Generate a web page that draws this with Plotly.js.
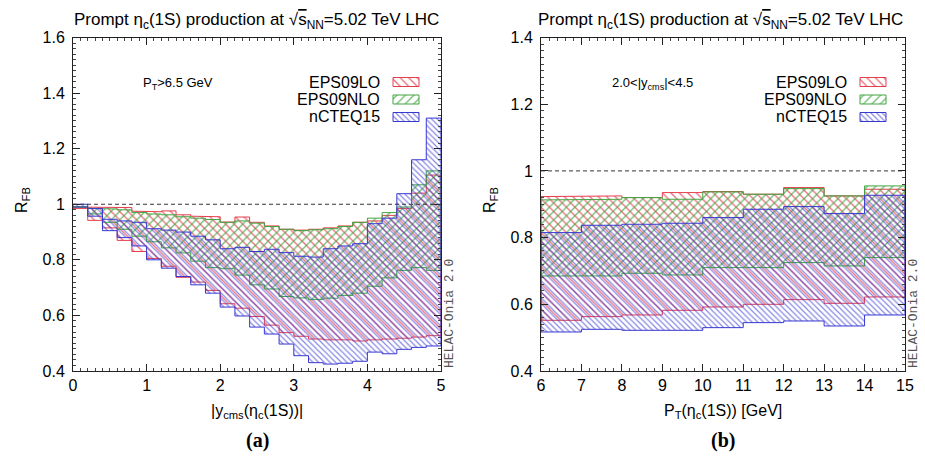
<!DOCTYPE html>
<html><head><meta charset="utf-8">
<script src="https://cdn.plot.ly/plotly-3.0.1.min.js"></script>
<style>html,body{margin:0;padding:0;background:#fff}</style>
</head><body><div id="chart" style="width:925px;height:456px"></div>
<script>
// ---------- Panel (a): R_FB vs |y_cms|, P_T > 6.5 GeV ----------
const yEdges = [0,0.2,0.4,0.6,0.8,1.0,1.2,1.4,1.6,1.8,2.0,2.2,2.4,2.6,2.8,3.0,3.2,3.4,3.6,3.8,4.0,4.2,4.4,4.6,4.8,5.0];
const aLOup  = [0.99,0.99,0.988,0.988,0.975,0.973,0.976,0.962,0.957,0.955,0.936,0.954,0.935,0.922,0.91,0.907,0.91,0.915,0.922,0.935,0.94,0.96,0.985,1.04,1.105];
const aLOlo  = [0.985,0.942,0.915,0.87,0.83,0.805,0.777,0.737,0.72,0.69,0.642,0.626,0.596,0.565,0.538,0.525,0.515,0.512,0.512,0.508,0.512,0.515,0.518,0.522,0.527];
const aNLOup = [0.99,0.985,0.983,0.98,0.97,0.965,0.962,0.955,0.95,0.945,0.935,0.94,0.932,0.92,0.91,0.905,0.908,0.912,0.92,0.935,0.95,0.97,0.99,1.07,1.12];
const aNLOlo = [0.99,0.965,0.935,0.91,0.885,0.865,0.843,0.825,0.795,0.772,0.768,0.745,0.71,0.695,0.668,0.663,0.657,0.662,0.672,0.68,0.705,0.735,0.762,0.772,0.762];
const aNCup  = [1.0,0.985,0.946,0.94,0.935,0.912,0.907,0.9,0.885,0.872,0.84,0.845,0.83,0.838,0.826,0.813,0.81,0.84,0.85,0.858,0.93,0.95,1.038,1.16,1.31];
const aNClo  = [0.99,0.957,0.905,0.88,0.85,0.80,0.77,0.74,0.71,0.68,0.63,0.598,0.558,0.533,0.497,0.455,0.43,0.425,0.428,0.435,0.468,0.462,0.478,0.485,0.49];

// ---------- Panel (b): R_FB vs P_T, 2.0 < |y_cms| < 4.5 ----------
const ptEdges = [6,7,8,9,10,11,12,13,14,15];
const bLOup  = [0.923,0.925,0.92,0.935,0.938,0.93,0.95,0.925,0.945];
const bLOlo  = [0.552,0.563,0.568,0.582,0.592,0.600,0.614,0.603,0.622];
const bNLOup = [0.913,0.915,0.92,0.915,0.937,0.93,0.947,0.925,0.955];
const bNLOlo = [0.685,0.685,0.693,0.688,0.71,0.71,0.725,0.715,0.74];
const bNCup  = [0.815,0.837,0.84,0.843,0.86,0.885,0.893,0.872,0.927];
const bNClo  = [0.517,0.525,0.522,0.522,0.53,0.545,0.55,0.535,0.568];

const seriesNames = ['EPS09LO','EPS09NLO','nCTEQ15'];

// ---------- styling ----------
const W = 925, H = 456;
const RED = 'rgb(228,62,78)', GREEN = 'rgb(64,165,64)', BLUE = 'rgb(55,55,210)';
const STY = {
  EPS09LO:  {color: RED,   shape: '\\', size: 6, solidity: 0.22, op: 0.75},
  EPS09NLO: {color: GREEN, shape: '/',  size: 6, solidity: 0.22, op: 0.75},
  nCTEQ15:  {color: BLUE,  shape: '\\', size: 4, solidity: 0.3,  op: 0.6}
};
const px = x => x / W, py = y => 1 - y / H;

function pattern(s) {
  return {shape: s.shape, fgcolor: s.color, bgcolor: 'rgba(0,0,0,0)', size: s.size, solidity: s.solidity, fgopacity: s.op};
}
function band(edges, up, lo, xa, ya, key) {
  const s = STY[key], x = [], y = [];
  for (let i = 0; i < up.length; i++) { x.push(edges[i], edges[i + 1]); y.push(up[i], up[i]); }
  for (let i = lo.length - 1; i >= 0; i--) { x.push(edges[i + 1], edges[i]); y.push(lo[i], lo[i]); }
  x.push(x[0]); y.push(y[0]);
  return {type: 'scatter', mode: 'lines', x, y, xaxis: xa, yaxis: ya, fill: 'toself',
    name: key, showlegend: false, hoverinfo: 'skip',
    line: {color: s.color, width: 1}, fillcolor: 'rgba(0,0,0,0)', fillpattern: pattern(s)};
}

// legend key boxes drawn on a hidden pixel-space axis
const keyLayout = [{x0: 393, x1: 419, yc: [82, 99.5, 117]}, {x0: 860, x1: 886, yc: [82, 99.5, 117]}];
function keyBox(x0, x1, yc, key) {
  const h = 4.5, s = STY[key];
  return {type: 'scatter', mode: 'lines', xaxis: 'x3', yaxis: 'y3', fill: 'toself',
    x: [x0, x1, x1, x0, x0], y: [yc - h, yc - h, yc + h, yc + h, yc - h],
    showlegend: false, hoverinfo: 'skip', line: {color: s.color, width: 1},
    fillcolor: 'rgba(0,0,0,0)', fillpattern: pattern(s)};
}

const traces = [
  band(yEdges, aLOup, aLOlo, 'x', 'y', 'EPS09LO'),
  band(yEdges, aNLOup, aNLOlo, 'x', 'y', 'EPS09NLO'),
  band(yEdges, aNCup, aNClo, 'x', 'y', 'nCTEQ15'),
  band(ptEdges, bLOup, bLOlo, 'x2', 'y2', 'EPS09LO'),
  band(ptEdges, bNLOup, bNLOlo, 'x2', 'y2', 'EPS09NLO'),
  band(ptEdges, bNCup, bNClo, 'x2', 'y2', 'nCTEQ15')
];
keyLayout.forEach(k => seriesNames.forEach((n, i) => traces.push(keyBox(k.x0, k.x1, k.yc[i], n))));

const FONT = 'Liberation Sans, Arial, sans-serif';
const NARROW = 'Liberation Sans Narrow, Liberation Sans, Arial, sans-serif';
const axBase = {showline: true, linecolor: '#222', linewidth: 1, mirror: 'ticks', ticks: 'inside', ticklen: 7,
  tickcolor: '#222', showgrid: false, zeroline: false, fixedrange: true};
const yDom = [py(371), py(37.5)];

const layout = {
  width: W, height: H, margin: {l: 0, r: 0, t: 0, b: 0}, paper_bgcolor: '#fff', plot_bgcolor: 'rgba(0,0,0,0)',
  showlegend: false,
  xaxis: Object.assign({}, axBase, {domain: [px(73), px(441)], anchor: 'y', range: [0, 5], dtick: 1,
    tickfont: {family: NARROW, size: 16, color: '#000'},
    minor: {ticks: 'inside', ticklen: 3, dtick: 0.1, tickcolor: '#444', showgrid: false}}),
  yaxis: Object.assign({}, axBase, {domain: yDom, anchor: 'x', range: [0.4, 1.6], dtick: 0.2,
    tickfont: {family: FONT, size: 16, color: '#000'}, ticklabelstandoff: 4,
    minor: {ticks: 'inside', ticklen: 3, dtick: 0.02, tickcolor: '#444', showgrid: false}}),
  xaxis2: Object.assign({}, axBase, {domain: [px(541), px(905)], anchor: 'y2', range: [6, 15], dtick: 1,
    tickfont: {family: NARROW, size: 16, color: '#000'},
    minor: {ticks: 'inside', ticklen: 3, dtick: 0.2, tickcolor: '#444', showgrid: false}}),
  yaxis2: Object.assign({}, axBase, {domain: yDom, anchor: 'x2', range: [0.4, 1.4], dtick: 0.2,
    tickfont: {family: FONT, size: 16, color: '#000'}, ticklabelstandoff: 4,
    minor: {ticks: 'inside', ticklen: 3, dtick: 0.02, tickcolor: '#444', showgrid: false}}),
  xaxis3: {domain: [0, 1], anchor: 'y3', range: [0, W], visible: false, fixedrange: true},
  yaxis3: {domain: [0, 1], anchor: 'x3', range: [H, 0], visible: false, fixedrange: true},
  shapes: [
    {type: 'line', xref: 'x domain', yref: 'y', x0: 0, x1: 1, y0: 1, y1: 1, line: {color: '#333', width: 1, dash: '4px,3px'}},
    {type: 'line', xref: 'x2 domain', yref: 'y2', x0: 0, x1: 1, y0: 1, y1: 1, line: {color: '#333', width: 1, dash: '4px,3px'}}
  ],
  annotations: []
};

const titleText = 'Prompt η<sub>c</sub>(1S) production at √<span style="text-decoration:overline">s</span><sub>NN</sub>=5.02 TeV LHC';
function ann(x, y, text, opts) {
  return Object.assign({xref: 'paper', yref: 'paper', x: px(x), y: py(y), text, showarrow: false,
    xanchor: 'center', yanchor: 'middle', font: {family: FONT, size: 15, color: '#000'}}, opts || {});
}
const A = layout.annotations;
A.push(ann(256, 21, titleText, {font: {family: FONT, size: 17, color: '#000'}}));
A.push(ann(720, 21, titleText, {font: {family: FONT, size: 17, color: '#000'}}));
A.push(ann(22, 200, 'R<sub>FB</sub>', {textangle: -90, font: {family: FONT, size: 16, color: '#000'}}));
A.push(ann(490, 200, 'R<sub>FB</sub>', {textangle: -90, font: {family: FONT, size: 16, color: '#000'}}));
A.push(ann(257, 411, '|y<sub>cms</sub>(η<sub>c</sub>(1S))|', {font: {family: NARROW, size: 16, color: '#000'}}));
A.push(ann(723, 411, 'P<sub>T</sub>(η<sub>c</sub>(1S)) [GeV]', {font: {family: NARROW, size: 16, color: '#000'}}));
A.push(ann(257, 440, '<b>(a)</b>', {font: {family: 'Liberation Serif, Times New Roman, serif', size: 20, color: '#000'}}));
A.push(ann(723, 440, '<b>(b)</b>', {font: {family: 'Liberation Serif, Times New Roman, serif', size: 20, color: '#000'}}));
A.push(ann(178, 83, 'P<sub>T</sub>>6.5 GeV', {font: {family: FONT, size: 13, color: '#000'}}));
A.push(ann(652, 83, '2.0<|y<sub>cms</sub>|<4.5', {font: {family: FONT, size: 13, color: '#000'}}));
keyLayout.forEach(k => seriesNames.forEach((n, i) =>
  A.push(ann(k.x0 - 11, k.yc[i], n, {xanchor: 'right', font: {family: FONT, size: 16, color: '#000'}}))));
A.push(ann(449, 314, 'HELAC-Onia 2.0', {textangle: -90, font: {family: 'Liberation Mono, DejaVu Sans Mono, monospace', size: 13, color: '#555'}}));
A.push(ann(913, 314, 'HELAC-Onia 2.0', {textangle: -90, font: {family: 'Liberation Mono, DejaVu Sans Mono, monospace', size: 13, color: '#555'}}));

Plotly.newPlot('chart', traces, layout, {staticPlot: true, displayModeBar: false});
</script></body></html>
